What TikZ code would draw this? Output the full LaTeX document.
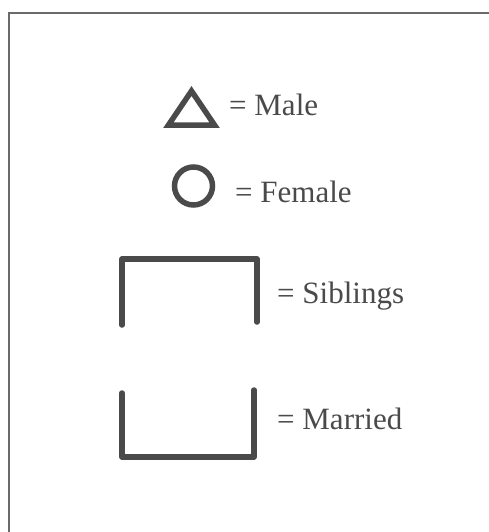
\documentclass[tikz,border=0pt]{standalone}
\usepackage{fontspec}
\setmainfont{Liberation Serif}
\begin{document}
\begin{tikzpicture}[x=1pt,y=-1pt,
  sym/.style={draw=symgray,line width=5.5pt},
  lbl/.style={anchor=base west,inner sep=0pt,text=txtgray,font=\fontsize{31}{34}\selectfont}]
\definecolor{symgray}{HTML}{4A4A4A}
\definecolor{txtgray}{HTML}{4A4A4A}
\definecolor{framegray}{HTML}{6A6A6A}
\useasboundingbox (0,0) rectangle (489,532);
\begin{scope}
\clip (0,0) rectangle (489,532);
\draw[framegray,line width=2pt] (9,13) rectangle (520,560);
\end{scope}
% male
\coordinate (tl) at (168.5,125);
\coordinate (tt) at (191.5,91);
\coordinate (tr) at (214.5,125);
\draw[sym,line join=miter] (tl) -- (tt) -- (tr) -- cycle;
\node[lbl] (male) at (229,116) {= Male};
% female
\node[sym,circle,minimum size=38pt,inner sep=0pt] (fem) at (193.5,186) {};
\node[lbl] (female) at (235,202) {= Female};
% siblings
\coordinate (s1) at (122,325);
\coordinate (s2) at (122,259);
\coordinate (s3) at (257,259);
\coordinate (s4) at (257,322);
\draw[sym,line cap=round,line join=round] (s1) -- (s2) -- (s3) -- (s4);
\node[lbl] (sib) at (277,303) {= Siblings};
% married
\coordinate (m1) at (122,393);
\coordinate (m2) at (122,457);
\coordinate (m3) at (254,457);
\coordinate (m4) at (254,390);
\draw[sym,line cap=round,line join=round] (m1) -- (m2) -- (m3) -- (m4);
\node[lbl] (mar) at (277,429) {= Married};
\end{tikzpicture}
\end{document}
